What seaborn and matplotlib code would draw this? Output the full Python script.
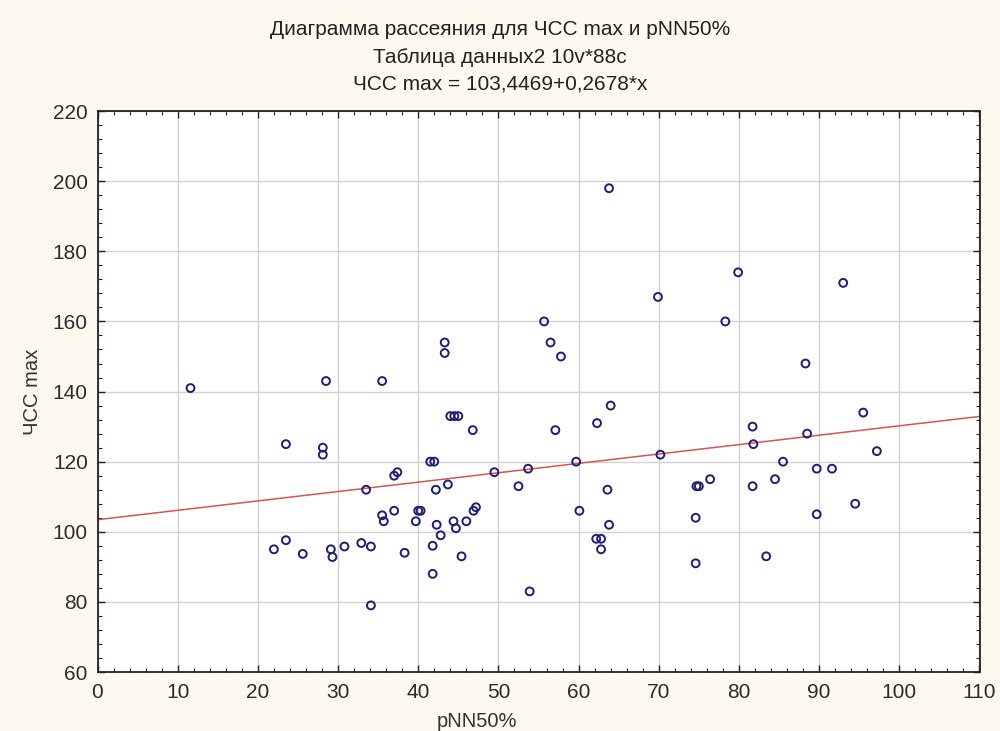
import matplotlib
matplotlib.use("Agg")
import matplotlib.pyplot as plt
from matplotlib.ticker import MultipleLocator
import seaborn as sns
import pandas as pd

# ---- data ----
pnn50 = [11.6, 22.0, 23.5, 23.5, 25.6, 28.1, 28.1, 28.5, 29.1, 29.3,
         30.8, 32.9, 33.5, 34.1, 34.1, 35.5, 35.5, 35.7, 37.0, 37.4,
         37.0, 38.3, 39.7, 40.0, 40.3, 41.5, 42.0, 41.8, 41.8, 42.2,
         42.3, 42.8, 43.3, 43.3, 43.7, 44.0, 44.5, 45.0, 44.4, 44.7,
         45.4, 46.0, 46.8, 46.9, 47.2, 49.5, 52.5, 53.7, 53.9, 55.7,
         56.5, 57.1, 57.8, 59.7, 60.1, 62.2, 62.8, 62.8, 62.3, 63.6,
         63.8, 63.8, 64.0, 69.9, 70.2, 74.6, 74.6, 74.7, 75.0, 76.4,
         78.3, 79.9, 81.7, 81.8, 81.7, 83.4, 84.5, 85.5, 88.3, 88.5,
         89.7, 89.7, 91.6, 93.0, 94.5, 95.5, 97.2]
hr_max = [141, 95, 97.6, 125, 93.7, 124, 122, 143, 95, 92.8,
          95.8, 96.8, 112, 95.8, 79, 143, 104.7, 103, 116, 117,
          106, 94, 103, 106, 106, 120, 120, 96, 88, 112,
          102, 99, 154, 151, 113.5, 133, 133, 133, 103, 101,
          93, 103, 129, 106, 107, 117, 113, 118, 83, 160,
          154, 129, 150, 120, 106, 98, 98, 95, 131, 112,
          102, 198, 136, 167, 122, 104, 91, 113, 113, 115,
          160, 174, 130, 125, 113, 93, 115, 120, 148, 128,
          118, 105, 118, 171, 108, 134, 123]

intercept = 103.4469
slope = 0.2678
line_x = [0, 110]

title_lines = ["Диаграмма рассеяния для ЧСС max и pNN50%",
               "Таблица данных2 10v*88c",
               "ЧСС max = 103,4469+0,2678*x"]
x_label = "pNN50%"
y_label = "ЧСС max"

# ---- figure ----
sns.set_theme(style="white")
plt.rcParams['font.family'] = ['Liberation Sans', 'DejaVu Sans']

bg = "#fdf9ee"
fig = plt.figure(figsize=(10, 7.31), dpi=100, facecolor=bg)
ax = fig.add_axes([0.0975, 0.0807, 0.882, 0.7673])
ax.set_facecolor("white")

df = pd.DataFrame({"x": pnn50, "y": hr_max})
line_df = pd.DataFrame({"x": line_x,
                        "y": [intercept + slope * v for v in line_x]})

sns.lineplot(data=line_df, x="x", y="y", ax=ax, color="#d65454",
             linewidth=1.1, zorder=2)
sns.scatterplot(data=df, x="x", y="y", ax=ax, marker="o", s=32,
                facecolor="none", edgecolor="#1f1f70", linewidth=1.4,
                zorder=3)

ax.set_xlim(0, 110)
ax.set_ylim(60, 220)
ax.xaxis.set_major_locator(MultipleLocator(10))
ax.xaxis.set_minor_locator(MultipleLocator(2))
ax.yaxis.set_major_locator(MultipleLocator(20))
ax.yaxis.set_minor_locator(MultipleLocator(4))

ax.grid(True, which="major", color="#d2d2d2", linewidth=1.0)
ax.set_axisbelow(True)

ax.tick_params(which="both", direction="in", top=True, right=True,
               bottom=True, left=True, colors="#222222",
               labelsize=15, labelcolor="#2c2c2c")
ax.tick_params(which="major", length=5, width=1)
ax.tick_params(which="minor", length=3, width=0.8)
ax.tick_params(axis="x", pad=8)
ax.tick_params(axis="y", pad=7)

for s in ax.spines.values():
    s.set_color("#222222")
    s.set_linewidth(1.3)

ax.set_xlabel(x_label, fontsize=14.5, color="#333333")
ax.set_ylabel(y_label, fontsize=14.5, color="#333333")
ax.xaxis.set_label_coords(0.43, -0.071)
ax.yaxis.set_label_coords(-0.063, 0.5)

for ypos, txt in zip([0.959, 0.922, 0.885], title_lines):
    fig.text(0.5, ypos, txt, ha="center", va="center", fontsize=15,
             color="#222222")

fig.savefig("out.png", dpi=100, facecolor=bg)
